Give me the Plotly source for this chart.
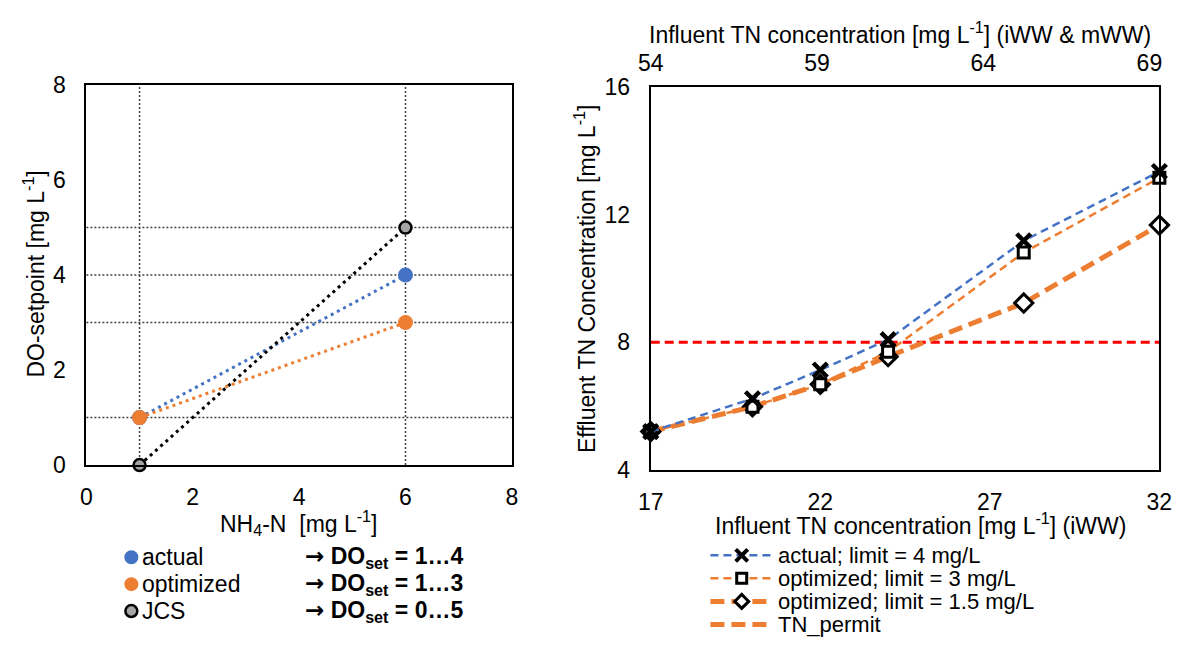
import plotly.graph_objects as go

W, H = 1189, 648

# ---- left panel: DO setpoint as a function of NH4-N ----
nh4_n = [1, 6]
do_actual = [1, 4]
do_optimized = [1, 3]
do_jcs = [0, 5]

left_xticks = [0, 2, 4, 6, 8]
left_yticks = [0, 2, 4, 6, 8]

# ---- right panel: effluent TN vs influent TN ----
influent_tn_iww = [17, 20, 22, 24, 28, 32]
eff_actual_4 = [5.2, 6.23, 7.13, 8.08, 11.18, 13.35]
eff_opt_3 = [5.2, 5.98, 6.68, 7.7, 10.81, 13.15]
eff_opt_15 = [5.2, 5.98, 6.68, 7.55, 9.23, 11.67]
tn_permit = 8

right_xticks = [17, 22, 27, 32]
right_top_ticks = [54, 59, 64, 69]
right_yticks = [4, 8, 12, 16]

BLUE = "#4472C4"
ORANGE = "#ED7D31"
GRAY = "#A5A5A5"
RED = "#FF0000"
FONT = "Arial, Liberation Sans, sans-serif"
FS = 23


def px(x):
    return x / W


def py(y):
    return 1 - y / H


fig = go.Figure()

# left panel series
left_series = [
    ("actual", do_actual, BLUE, dict(size=15, color=BLUE)),
    ("optimized", do_optimized, ORANGE, dict(size=15, color=ORANGE)),
    ("JCS", do_jcs, "#000000", dict(size=12, color=GRAY, line=dict(color="#000000", width=2.5))),
]
for name, ys, col, mk in left_series:
    fig.add_trace(go.Scatter(
        x=nh4_n, y=ys, name=name, mode="lines+markers",
        line=dict(color=col, width=3, dash="3px,4px"),
        marker=mk, cliponaxis=False, showlegend=False,
        xaxis="x", yaxis="y",
    ))

# right panel series
right_series = [
    ("optimized; limit = 1.5 mg/L", eff_opt_15, ORANGE, 5, "14px,7px",
     dict(symbol="diamond", size=14, color="white", line=dict(color="black", width=3))),
    ("optimized; limit = 3 mg/L", eff_opt_3, ORANGE, 2.5, "8px,5px",
     dict(symbol="square", size=11, color="white", line=dict(color="black", width=3))),
    ("actual; limit = 4 mg/L", eff_actual_4, BLUE, 2.5, "8px,5px",
     dict(symbol="x-thin", size=14, color="black", line=dict(color="black", width=4.5))),
]
for name, ys, col, lw, dash, mk in right_series:
    fig.add_trace(go.Scatter(
        x=influent_tn_iww, y=ys, name=name, mode="lines+markers",
        line=dict(color=col, width=lw, dash=dash),
        marker=mk, cliponaxis=False, showlegend=False,
        xaxis="x2", yaxis="y2",
    ))

# secondary (top) axis carries the combined influent scale; an empty carrier trace
# makes Plotly render its tick labels
fig.add_trace(go.Scatter(
    x=right_top_ticks, y=[tn_permit] * len(right_top_ticks), mode="markers",
    marker=dict(opacity=0), hoverinfo="skip", showlegend=False,
    xaxis="x3", yaxis="y2",
))

shapes = []
# drop lines through the left panel's set points
for v in sorted(set(nh4_n)):
    shapes.append(dict(type="line", xref="x", yref="y domain", x0=v, x1=v, y0=0, y1=1,
                       line=dict(color="#404040", width=1.5, dash="2px,2px"), layer="below"))
for v in sorted(set(do_actual + do_optimized + do_jcs)):
    if 0 < v < 8:
        shapes.append(dict(type="line", xref="x domain", yref="y", x0=0, x1=1, y0=v, y1=v,
                           line=dict(color="#404040", width=1.5, dash="2px,2px"), layer="below"))
# permit limit
shapes.append(dict(type="line", xref="x2 domain", yref="y2", x0=0, x1=1, y0=tn_permit, y1=tn_permit,
                   line=dict(color=RED, width=3, dash="9px,5px"), layer="below"))

annotations = []


def text(x, y, s, size=FS, anchor="center", angle=0):
    annotations.append(dict(
        x=px(x), y=py(y), xref="paper", yref="paper", text=s, showarrow=False,
        xanchor=anchor, yanchor="middle", textangle=angle, borderpad=0,
        font=dict(family=FONT, size=size, color="black"),
    ))


# axis titles
text(22, 272, "DO-setpoint [mg L<sup>-1</sup>]", angle=-90)
text(292, 531, "NH<sub>4</sub>-N \u00a0[mg L<sup>-1</sup>]")
text(585, 277, "Effluent TN Concentration [mg L<sup>-1</sup>]", angle=-90)
text(928, 532, "Influent TN concentration [mg L<sup>-1</sup>] (iWW)")
text(907, 21, "Influent TN concentration [mg L<sup>-1</sup>] (iWW &amp; mWW)")

# left legend
ARROW = '<span style="font-family:DejaVu Sans">\u2192</span>'
left_rows = [567, 595, 623]
for (name, ys, col, mk), ry in zip(left_series, left_rows):
    fill = mk["color"]
    edge = mk.get("line", {}).get("color", fill)
    r = 7 if name != "JCS" else 6
    shapes.append(dict(type="circle", xref="paper", yref="paper", xsizemode="pixel", ysizemode="pixel",
                       xanchor=px(121), yanchor=py(ry), x0=-r, x1=r, y0=-r, y1=r,
                       fillcolor=fill, line=dict(color=edge, width=2.5 if name == "JCS" else 0)))
    text(131, ry, name, anchor="left")
    text(298, ry, "<b>%s DO<sub>set</sub> = %g\u2026%g</b>" % (ARROW, min(ys), max(ys)), anchor="left")

# right legend
right_rows = [565, 589, 613]
leg_x0, leg_x1, leg_mid = 713, 777, 745
legend_order = [right_series[2], right_series[1], right_series[0]]
for (name, ys, col, lw, dash, mk), ry in zip(legend_order, right_rows):
    shapes.append(dict(type="line", xref="paper", yref="paper", x0=px(leg_x0), x1=px(leg_x1),
                       y0=py(ry), y1=py(ry), line=dict(color=col, width=lw, dash=dash)))
    common = dict(xref="paper", yref="paper", xsizemode="pixel", ysizemode="pixel",
                  xanchor=px(leg_mid), yanchor=py(ry))
    if mk["symbol"] == "x-thin":
        shapes.append(dict(type="line", x0=-6, x1=6, y0=-6, y1=6, line=dict(color="black", width=4), **common))
        shapes.append(dict(type="line", x0=-6, x1=6, y0=6, y1=-6, line=dict(color="black", width=4), **common))
    elif mk["symbol"] == "square":
        shapes.append(dict(type="rect", x0=-5, x1=5, y0=-5, y1=5, fillcolor="white",
                           line=dict(color="black", width=3), **common))
    else:
        shapes.append(dict(type="path", path="M0,-7 L7,0 L0,7 L-7,0 Z", fillcolor="white",
                           line=dict(color="black", width=3), **common))
    text(781, ry, name, size=22, anchor="left")
shapes.append(dict(type="line", xref="paper", yref="paper", x0=px(leg_x0), x1=px(leg_x1),
                   y0=py(637), y1=py(637), line=dict(color=ORANGE, width=5, dash="14px,7px")))
text(781, 637, "TN_permit", size=22, anchor="left")

axis_common = dict(showgrid=False, zeroline=False, showline=True, linecolor="black", linewidth=2,
                   mirror=True, ticks="", tickfont=dict(family=FONT, size=FS, color="black"))

fig.update_layout(
    width=W, height=H,
    margin=dict(l=0, r=0, t=0, b=0),
    paper_bgcolor="white", plot_bgcolor="white",
    showlegend=False,
    xaxis=dict(domain=[px(75), px(510)], range=[0, 8], tickvals=left_xticks,
               anchor="y", ticklabelstandoff=10, **axis_common),
    yaxis=dict(domain=[py(471), py(75)], range=[0, 8], tickvals=left_yticks,
               anchor="x", ticklabelstandoff=14, **axis_common),
    xaxis2=dict(domain=[px(652), px(1172)], range=[17, 32], tickvals=right_xticks,
                anchor="y2", ticklabelstandoff=10, **axis_common),
    yaxis2=dict(domain=[py(476), py(77)], range=[4, 16], tickvals=right_yticks,
                anchor="x2", ticklabelstandoff=14, **axis_common),
    xaxis3=dict(overlaying="x2", side="top", anchor="y2", range=[54, 69.3], tickvals=right_top_ticks,
                showgrid=False, zeroline=False, showline=False, ticks="", ticklabelstandoff=10,
                tickfont=dict(family=FONT, size=FS, color="black")),
    shapes=shapes,
    annotations=annotations,
)

fig.write_html("out.html")
